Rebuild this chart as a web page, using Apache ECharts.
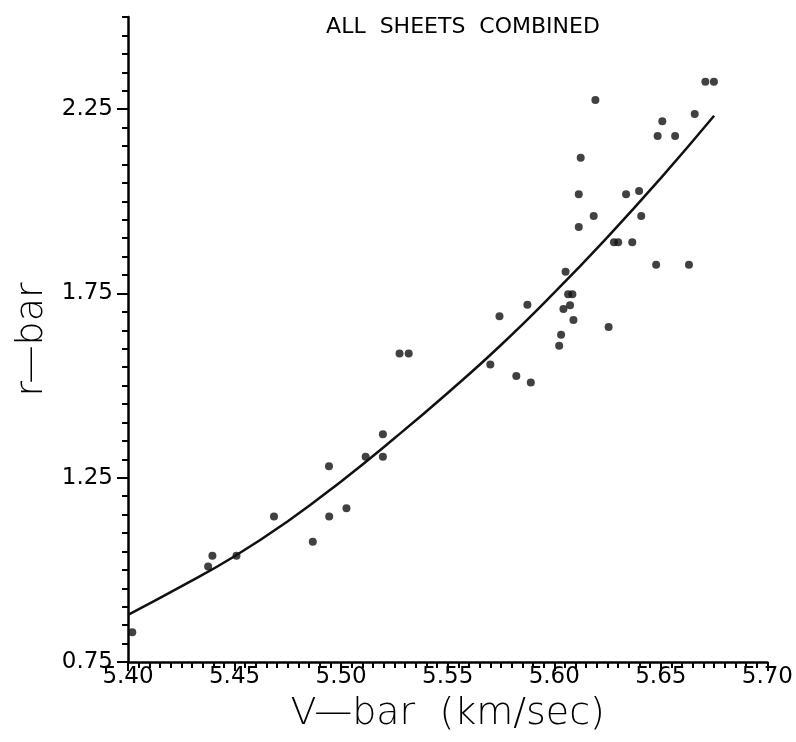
<!DOCTYPE html>
<html>
<head>
<meta charset="utf-8">
<title>r-bar vs V-bar</title>
<script src="https://cdn.jsdelivr.net/npm/echarts@6/dist/echarts.min.js"></script>
<style>
  html, body { margin: 0; padding: 0; background: #fff; }
  #chart { width: 796px; height: 742px; }
</style>
</head>
<body>
<div id="chart"></div>
<script>
(function () {
    'use strict';

    // measured points (V-bar km/sec, r-bar)
    var vBar = [5.402, 5.4376, 5.4396, 5.4509, 5.4685, 5.4867, 5.4943, 5.4944, 5.5025,
        5.5115, 5.5196, 5.5196, 5.5274, 5.5317, 5.5743, 5.5874, 5.5700, 5.5822, 5.5890,
        5.6023, 5.6032, 5.6043, 5.6074, 5.6065, 5.6085, 5.6090, 5.6255, 5.6053, 5.6478,
        5.6632, 5.6280, 5.6300, 5.6366, 5.6115, 5.6185, 5.6408, 5.6115, 5.6337, 5.6398,
        5.6124, 5.6193, 5.6485, 5.6567, 5.6507, 5.6659, 5.6709, 5.6749];
    var rBar = [0.831, 1.009, 1.038, 1.038, 1.145, 1.076, 1.281, 1.145, 1.167,
        1.307, 1.307, 1.368, 1.587, 1.587, 1.688, 1.719, 1.557, 1.526, 1.508,
        1.608, 1.638, 1.708, 1.718, 1.748, 1.748, 1.678, 1.659, 1.809, 1.828,
        1.828, 1.889, 1.889, 1.889, 1.930, 1.960, 1.960, 2.019, 2.019, 2.028,
        2.118, 2.275, 2.177, 2.177, 2.217, 2.237, 2.324, 2.324];

    // fitted curve
    var fitV = [5.400, 5.425, 5.450, 5.475, 5.500, 5.525, 5.550, 5.575, 5.600, 5.625, 5.650, 5.675];
    var fitR = [0.878, 0.955, 1.037, 1.132, 1.240, 1.357, 1.480, 1.610, 1.752, 1.903, 2.063, 2.232];

    var yLabels = [0.75, 1.25, 1.75, 2.25];

    var ink = '#000';
    var font = 'DejaVu Sans';

    function pairs(xs, ys) {
        var out = [];
        for (var i = 0; i < xs.length; i++) out.push([xs[i], ys[i]]);
        return out;
    }

    var chart = echarts.init(document.getElementById('chart'), null, { renderer: 'canvas' });

    var options = {
        animation: false,
        backgroundColor: '#fff',
        title: {
            text: 'ALL  SHEETS  COMBINED',
            left: 458,
            top: 11,
            textAlign: 'center',
            textStyle: { fontFamily: font, fontSize: 22, fontWeight: 'normal', color: ink }
        },
        grid: { left: 128, right: 27, top: 17, bottom: 80 },
        xAxis: {
            type: 'value',
            min: 5.40,
            max: 5.70,
            interval: 0.05,
            name: 'V\u2014bar  (km/sec)',
            nameLocation: 'middle',
            nameGap: 33,
            nameTextStyle: { fontFamily: font, fontSize: 38, fontWeight: 300, color: ink },
            axisLine: { lineStyle: { color: ink, width: 2.5 } },
            axisTick: { length: 9, lineStyle: { color: ink, width: 2 } },
            minorTick: { show: true, splitNumber: 10, length: 6, lineStyle: { color: ink, width: 2 } },
            axisLabel: {
                margin: 4,
                fontFamily: font, fontSize: 23, color: ink,
                formatter: function (v) { return v.toFixed(2); }
            },
            splitLine: { show: false }
        },
        yAxis: [{
            type: 'value',
            min: 0.75,
            max: 2.5,
            interval: 0.05,
            name: 'r\u2014bar',
            nameLocation: 'middle',
            nameRotate: 90,
            nameGap: 70,
            nameTextStyle: { fontFamily: font, fontSize: 38, fontWeight: 300, color: ink },
            axisLine: { show: true, lineStyle: { color: ink, width: 2.5 } },
            axisTick: { show: true, length: 6, lineStyle: { color: ink, width: 2 } },
            axisLabel: {
                margin: 15,
                customValues: yLabels,
                fontFamily: font, fontSize: 23, color: ink,
                formatter: function (v) { return v.toFixed(2); }
            },
            splitLine: { show: false }
        }, {
            // longer ticks at the labelled values
            type: 'value',
            position: 'left',
            min: 0.75,
            max: 2.5,
            axisLine: { show: false },
            axisTick: { show: true, length: 11, customValues: yLabels, lineStyle: { color: ink, width: 2 } },
            axisLabel: { show: false },
            splitLine: { show: false }
        }],
        series: [{
            type: 'line',
            data: pairs(fitV, fitR),
            smooth: true,
            showSymbol: false,
            lineStyle: { color: '#111', width: 2.5 },
            z: 2
        }, {
            type: 'scatter',
            data: pairs(vBar, rBar),
            symbolSize: 8,
            itemStyle: { color: '#111' },
            z: 3
        }]
    };

    chart.setOption(options);
})();
</script>
</body>
</html>
